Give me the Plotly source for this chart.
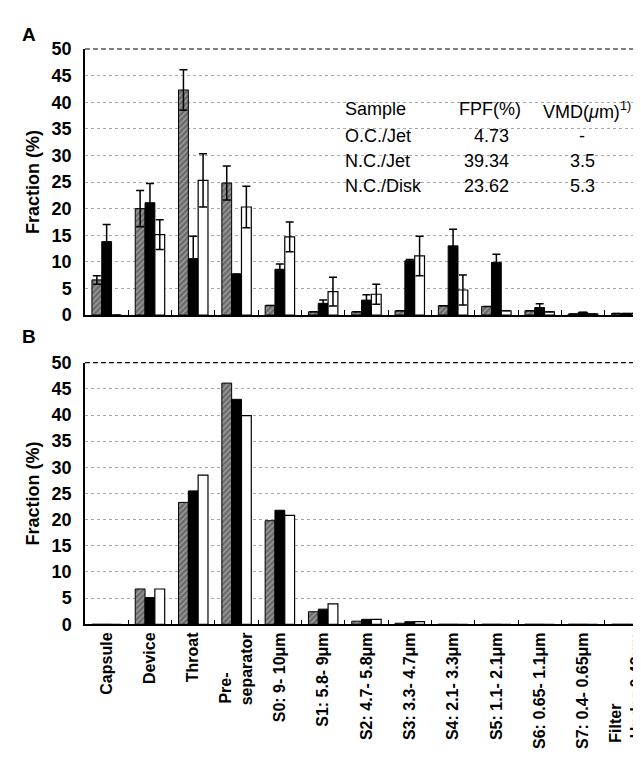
import plotly.graph_objects as go

# page body has an 8px margin; figure is sized/positioned so the 641x758 view matches
OFF = 8
W, H = 641 - OFF, 758 - OFF

categories = ["Capsule", "Device", "Throat", "Pre-separator", "S0: 9- 10μm", "S1: 5.8- 9μm",
              "S2: 4.7- 5.8μm", "S3: 3.3- 4.7μm", "S4: 2.1- 3.3μm", "S5: 1.1- 2.1μm",
              "S6: 0.65- 1.1μm", "S7: 0.4- 0.65μm", "Filter Under 0.43μm"]
tick_labels = ["Capsule", "Device", "Throat", "Pre-" + "\u00a0" * 9 + "<br>separator", "S0: 9- 10μm",
               "S1: 5.8- 9μm", "S2: 4.7- 5.8μm", "S3: 3.3- 4.7μm", "S4: 2.1- 3.3μm",
               "S5: 1.1- 2.1μm", "S6: 0.65- 1.1μm", "S7: 0.4- 0.65μm",
               "Filter" + "\u00a0" * 16 + "<br>Under 0.43μm"]

series_names = ["O.C./Jet", "N.C./Jet", "N.C./Disk"]

# Panel A (mean, error)
oc_jet_A = [6.6, 20.0, 42.3, 24.8, 1.8, 0.6, 0.6, 0.8, 1.75, 1.6, 0.8, 0.2, 0.3]
oc_jet_A_err = [0.8, 3.4, 3.8, 3.2, None, None, None, None, None, None, None, None, None]
nc_jet_A = [13.8, 21.1, 10.6, 7.7, 8.6, 2.2, 2.8, 10.2, 13.0, 9.9, 1.4, 0.5, 0.3]
nc_jet_A_err = [3.2, 3.6, 4.2, None, 1.0, 0.6, 1.0, 0.25, 3.1, 1.5, 0.7, None, None]
nc_disk_A = [0, 15.1, 25.3, 20.3, 14.7, 4.4, 3.9, 11.1, 4.7, 0.8, 0.6, 0.2, 0.3]
nc_disk_A_err = [None, 2.8, 5.0, 3.9, 2.8, 2.7, 1.9, 3.7, 2.8, None, None, None, None]

# Panel B
oc_jet_B = [0, 6.75, 23.3, 46.1, 19.8, 2.4, 0.6, 0.2, 0, 0, 0, 0, 0]
nc_jet_B = [0, 5.1, 25.5, 43.0, 21.8, 2.9, 0.95, 0.5, 0, 0, 0, 0, 0]
nc_disk_B = [0, 6.75, 28.5, 39.9, 20.8, 3.9, 0.95, 0.5, 0, 0, 0, 0, 0]

# Inset table
table_header = ["Sample", "FPF(%)", "VMD(<i>μ</i>m)<sup>1)</sup>"]
table_samples = ["O.C./Jet", "N.C./Jet", "N.C./Disk"]
table_fpf = ["4.73", "39.34", "23.62"]
table_vmd = ["-", "3.5", "5.3"]

FONT = "Liberation Sans"


def px(x):
    return (x - OFF) / W


def py(y):
    return 1 - (y - OFF) / H


def style(i):
    if i == 0:
        return dict(color="#7a7a7a", line=dict(color="black", width=1),
                    pattern=dict(shape="/", fgcolor="#d8d8d8", bgcolor="#6a6a6a",
                                 size=4, solidity=0.35, fillmode="overlay"))
    if i == 1:
        return dict(color="black", line=dict(color="black", width=1))
    return dict(color="white", line=dict(color="black", width=1.2))


fig = go.Figure()

A_vals = [oc_jet_A, nc_jet_A, nc_disk_A]
A_errs = [oc_jet_A_err, nc_jet_A_err, nc_disk_A_err]
for i in range(3):
    fig.add_trace(go.Bar(
        x=categories, y=A_vals[i], name=series_names[i], marker=style(i),
        error_y=dict(type="data", array=A_errs[i], symmetric=True, color="black",
                     thickness=1.5, width=4),
        xaxis="x", yaxis="y", showlegend=False))

B_vals = [oc_jet_B, nc_jet_B, nc_disk_B]
for i in range(3):
    fig.add_trace(go.Bar(
        x=categories, y=B_vals[i], name=series_names[i], marker=style(i),
        xaxis="x2", yaxis="y2", showlegend=False))

x0 = px(85)
xrange = [-0.5, 12.34]

common_x = dict(type="category", range=xrange, showline=True, linecolor="black", linewidth=1.5,
                ticks="inside", ticklen=5, tickcolor="black", tickwidth=1.2,
                tickson="boundaries", showgrid=False, zeroline=False, automargin=False,
                categoryorder="array", categoryarray=categories)
common_y = dict(range=[0, 50], dtick=5, showline=True, linecolor="black", linewidth=1.5,
                ticks="", showgrid=True, gridcolor="#a8a8a8", griddash="dot", gridwidth=1,
                zeroline=False, automargin=False,
                tickfont=dict(family=FONT, size=18, color="black", weight="bold"),
                ticklabelstandoff=8,
                title=dict(text="Fraction (%)", font=dict(family=FONT, size=18, color="black",
                                                            weight="bold")))

fig.update_layout(
    template="none",
    width=W, height=H, margin=dict(l=0, r=0, t=0, b=0, pad=0),
    paper_bgcolor="white", plot_bgcolor="white",
    barmode="group", bargap=0.32, bargroupgap=0,
    font=dict(family=FONT, color="black"),
    xaxis=dict(common_x, domain=[x0, 1], anchor="y", showticklabels=False),
    yaxis=dict(common_y, domain=[py(315), py(49)], anchor="x"),
    xaxis2=dict(common_x, domain=[x0, 1], anchor="y2", showticklabels=True, tickangle=-90,
                tickmode="array", tickvals=categories, ticktext=tick_labels,
                tickfont=dict(family=FONT, size=16, color="black", weight="bold"),
                ticklabelstandoff=0),
    yaxis2=dict(common_y, domain=[py(624.3), py(362.7)], anchor="x2"),
)

# dashed top border on each panel
for yr, xr in [("y domain", "x domain"), ("y2 domain", "x2 domain")]:
    fig.add_shape(type="line", xref=xr, yref=yr, x0=0, x1=1, y0=1, y1=1,
                  line=dict(color="black", width=1.2, dash="5px,3px"))

ann = []
# panel letters
ann.append(dict(text="<b>A</b>", x=px(20), y=py(22), xref="paper", yref="paper",
                showarrow=False, font=dict(family=FONT, size=19, color="black")))
ann.append(dict(text="<b>B</b>", x=px(20), y=py(336), xref="paper", yref="paper",
                showarrow=False, font=dict(family=FONT, size=19, color="black")))

tfont = dict(family=FONT, size=18, color="black")
row_y = [97, 124, 149, 174]
ann.append(dict(text=table_header[0], x=px(343), y=py(row_y[0]), xanchor="left",
                xref="paper", yref="paper", showarrow=False, font=tfont))
ann.append(dict(text=table_header[1], x=px(490), y=py(row_y[0]), xanchor="center",
                xref="paper", yref="paper", showarrow=False, font=tfont))
ann.append(dict(text=table_header[2], x=px(587), y=py(row_y[0]), xanchor="center",
                xref="paper", yref="paper", showarrow=False, font=tfont))
for k in range(3):
    yy = py(row_y[k + 1])
    ann.append(dict(text=table_samples[k], x=px(343), y=yy, xanchor="left",
                    xref="paper", yref="paper", showarrow=False, font=tfont))
    ann.append(dict(text=table_fpf[k], x=px(511), y=yy, xanchor="right",
                    xref="paper", yref="paper", showarrow=False, font=tfont))
    ann.append(dict(text=table_vmd[k], x=px(582), y=yy, xanchor="center",
                    xref="paper", yref="paper", showarrow=False, font=tfont))

fig.update_layout(annotations=ann)

fig.write_html("out.html")
